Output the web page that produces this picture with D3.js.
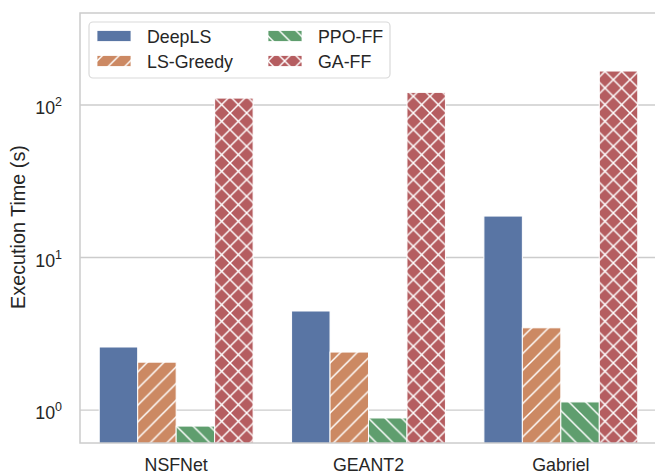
<!DOCTYPE html>
<html>
<head>
  <title>Execution Time</title>
  <style>
    body { margin: 0; background: #ffffff; }
    svg { display: block; font-family: "Liberation Sans", Arial, sans-serif; }
  </style>
</head>
<body>
  <div id="chart"></div>

  <script src="https://d3js.org/d3.v7.min.js"></script>
  <script>
    // Topologies and algorithms
    var topologies = ["NSFNet", "GEANT2", "Gabriel"];
    var algorithms = ["DeepLS", "LS-Greedy", "PPO-FF", "GA-FF"];

    // Execution time (s) per algorithm, one value per topology
    var deepLS   = [2.59, 4.46, 18.7];
    var lsGreedy = [2.06, 2.40, 3.46];
    var ppoFF    = [0.785, 0.887, 1.13];
    var gaFF     = [111, 121, 167];

    var yTicks = [1, 10, 100];

    var series = [deepLS, lsGreedy, ppoFF, gaFF];
    var colors = ["#5975a4", "#cc8963", "#5f9e6e", "#b55d60"];
    var hatches = [null, "/", "\\", "x"];

    var width = 655, height = 474;
    var margin = { top: 13, right: -2, bottom: 31, left: 80 };
    var plotW = width - margin.left - margin.right;
    var plotH = height - margin.top - margin.bottom;

    var svg = d3.select("#chart")
      .append("svg")
      .attr("width", width)
      .attr("height", height);

    // hatch patterns, roughly like matplotlib (6 lines per inch at 100 dpi)
    var defs = svg.append("defs");
    var cell = 100 / 6;
    hatches.forEach(function(h, i) {
      if (!h) return;
      var p = defs.append("pattern")
        .attr("id", "hatch" + i)
        .attr("patternUnits", "userSpaceOnUse")
        .attr("width", cell)
        .attr("height", cell);
      p.append("rect").attr("width", cell).attr("height", cell).attr("fill", colors[i]);
      var segs = [];
      if (h === "/" || h === "x") {
        segs.push([0, cell, cell, 0], [-cell, cell, cell, -cell], [0, 2 * cell, 2 * cell, 0]);
      }
      if (h === "\\" || h === "x") {
        segs.push([0, 0, cell, cell], [-cell, 0, cell, 2 * cell], [0, -cell, 2 * cell, cell]);
      }
      segs.forEach(function(s) {
        p.append("line")
          .attr("x1", s[0]).attr("y1", s[1])
          .attr("x2", s[2]).attr("y2", s[3])
          .attr("stroke", "#ffffff")
          .attr("stroke-width", 1.5);
      });
    });

    var g = svg.append("g")
      .attr("transform", "translate(" + margin.left + "," + margin.top + ")");

    var x = d3.scaleBand()
      .domain(topologies)
      .range([0, plotW])
      .paddingInner(0.2)
      .paddingOuter(0.1);

    var xInner = d3.scaleBand()
      .domain(algorithms)
      .range([0, x.bandwidth()]);

    var y = d3.scaleLog()
      .domain([0.608, 401])
      .range([plotH, 0]);

    // grid lines
    g.selectAll(".grid")
      .data(yTicks)
      .enter().append("line")
      .attr("x1", 0).attr("x2", plotW)
      .attr("y1", function(d) { return y(d); })
      .attr("y2", function(d) { return y(d); })
      .attr("stroke", "#cccccc")
      .attr("stroke-width", 1.3);

    // bars
    g.append("clipPath").attr("id", "plotclip")
      .append("rect").attr("width", plotW).attr("height", plotH);

    var bars = g.append("g").attr("clip-path", "url(#plotclip)");
    algorithms.forEach(function(a, i) {
      bars.selectAll(".bar" + i)
        .data(series[i])
        .enter().append("rect")
        .attr("x", function(d, j) { return x(topologies[j]) + xInner(a); })
        .attr("y", function(d) { return y(d); })
        .attr("width", xInner.bandwidth())
        .attr("height", function(d) { return plotH - y(d) + 2; })
        .attr("fill", hatches[i] ? "url(#hatch" + i + ")" : colors[i])
        .attr("stroke", "#ffffff")
        .attr("stroke-width", 1);
    });

    // frame (seaborn whitegrid spines)
    g.append("rect")
      .attr("width", plotW).attr("height", plotH)
      .attr("fill", "none")
      .attr("stroke", "#cccccc")
      .attr("stroke-width", 1.5);

    // x tick labels
    g.selectAll(".xlab")
      .data(topologies)
      .enter().append("text")
      .attr("x", function(d) { return x(d) + x.bandwidth() / 2; })
      .attr("y", plotH + 28)
      .attr("text-anchor", "middle")
      .attr("font-size", 17.8)
      .attr("fill", "#262626")
      .text(function(d) { return d; });

    // y tick labels 10^n
    var yl = g.selectAll(".ylab")
      .data(yTicks)
      .enter().append("text")
      .attr("x", -18)
      .attr("y", function(d) { return y(d) + 9; })
      .attr("text-anchor", "end")
      .attr("font-size", 17.8)
      .attr("fill", "#262626");
    yl.append("tspan").text("10");
    yl.append("tspan")
      .attr("dy", -8)
      .attr("font-size", 12.5)
      .text(function(d) { return Math.round(Math.log10(d)); });

    // y axis title
    svg.append("text")
      .attr("transform", "translate(25," + (margin.top + 214) + ") rotate(-90)")
      .attr("text-anchor", "middle")
      .attr("font-size", 19.8)
      .attr("fill", "#262626")
      .text("Execution Time (s)");

    // legend
    var leg = svg.append("g");
    leg.append("rect")
      .attr("x", 89).attr("y", 22)
      .attr("width", 301).attr("height", 56)
      .attr("rx", 4)
      .attr("fill", "#ffffff")
      .attr("fill-opacity", 0.8)
      .attr("stroke", "#d9d9d9")
      .attr("stroke-width", 1.2);

    var legPos = [[97, 36], [97, 61], [268, 36], [268, 61]];
    algorithms.forEach(function(a, i) {
      var item = leg.append("g")
        .attr("transform", "translate(" + legPos[i][0] + "," + legPos[i][1] + ")");
      item.append("rect")
        .attr("x", 0).attr("y", -5.5)
        .attr("width", 34).attr("height", 11)
        .attr("fill", hatches[i] ? "url(#hatch" + i + ")" : colors[i])
        .attr("stroke", "#ffffff")
        .attr("stroke-width", 0.8);
      item.append("text")
        .attr("x", 50).attr("y", 6.5)
        .attr("font-size", 17.8)
        .attr("fill", "#262626")
        .text(a);
    });
  </script>
</body>
</html>
